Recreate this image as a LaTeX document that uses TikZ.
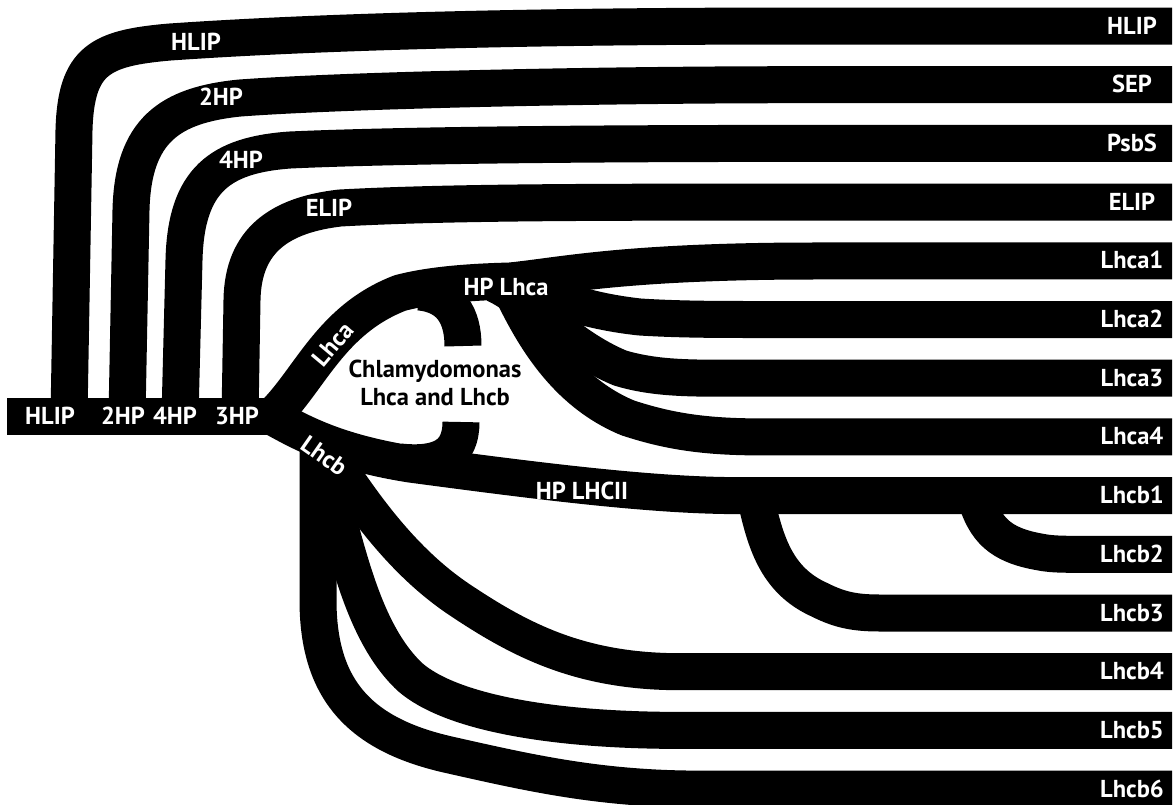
\documentclass[tikz,border=0pt]{standalone}
\usepackage{fontspec}
\setmainfont{PT Sans}
\begin{document}
\begin{tikzpicture}[x=1pt,y=-1pt,
  band/.style={line width=37pt, line join=round, draw=black},
  lab/.style={text=white, font=\bfseries\fontsize{24.5}{27}\selectfont, inner sep=0pt, anchor=base},
  rotlab/.style={text=white, font=\bfseries\fontsize{24.5}{27}\selectfont, inner sep=0pt},
  blab/.style={text=black, font=\bfseries\fontsize{24.5}{28}\selectfont, inner sep=0pt, align=center}]
\useasboundingbox (0,0) rectangle (1173,804);
\clip (0,0) rectangle (1173,804);

% named end points
\coordinate (b0) at (7,416.5);
\coordinate (b1) at (283,416.5);
\coordinate (fork) at (272,416.5);
\coordinate (sHLIP) at (69,416.5);
\coordinate (s2HP) at (127,416.5);
\coordinate (s4HP) at (180,416.5);
\coordinate (sELIP) at (240,416.5);
\foreach \k/\yy in {0/26,1/84.7,2/143.4,3/202.1,4/260.8,5/319.5,6/378.2,7/436.9,8/495.6,9/554.3,10/613,11/671.7,12/730.4,13/789.1}
  \coordinate (r\k) at (1172,\yy);
\coordinate (hpa) at (500,283);
\coordinate (hpa3) at (495,284);
\coordinate (hpa4) at (508,283);
\coordinate (hpb) at (330,455);
\coordinate (hpb5) at (322,460);
\coordinate (hpb6) at (318,445);
\coordinate (hook1) at (420,292);
\coordinate (hook1e) at (463,346);
\coordinate (hook2) at (461,422);
\coordinate (hook2e) at (400,462);
\coordinate (lhcb3s) at (755,495.6);
\coordinate (lhcb2s) at (975,495.6);

% base bar
\draw[band] (b0) -- (b1);
% top families
\draw[band] (sHLIP) -- (74,130) .. controls (76,60) and (100,48) .. (170,42) .. controls (300,33) and (500,26) .. (800,26) -- (r0);
\draw[band] (s2HP) -- (131,210) .. controls (133,130) and (170,105) .. (240,98) .. controls (350,90) and (600,84.7) .. (800,84.7) -- (r1);
\draw[band] (s4HP) -- (184,260) .. controls (186,180) and (220,155) .. (290,150) .. controls (400,145) and (600,143.4) .. (800,143.4) -- (r2);
\draw[band] (sELIP) -- (242,300) .. controls (243,240) and (280,215) .. (340,208) .. controls (450,202) and (600,202.1) .. (800,202.1) -- (r3);
% Lhca
\draw[band] (fork) .. controls (310,380) and (330,320) .. (400,293) .. controls (430,285) and (470,282) .. (510,281) .. controls (560,276) and (620,262) .. (800,261) -- (r4);
\draw[band] (hpa) .. controls (545,292) and (575,310) .. (640,317) .. controls (680,319.5) and (720,319.5) .. (760,319.5) -- (r5);
\draw[band] (hpa3) .. controls (530,300) and (565,345) .. (620,368) .. controls (650,377) and (680,378.2) .. (720,378.2) -- (r6);
\draw[band] (hpa4) .. controls (532,335) and (565,392) .. (628,418) .. controls (665,430) and (700,436.9) .. (760,436.9) -- (r7);
% Chlamydomonas hooks
\draw[band] (hook1) .. controls (450,295) and (463,315) .. (hook1e);
\draw[band] (hook2) .. controls (461,455) and (440,466) .. (hook2e);
% Lhcb
\draw[band] (fork) .. controls (300,432) and (335,452) .. (410,464) .. controls (530,480) and (650,495.6) .. (737,495.6) -- (r8);
\draw[band] (hpb) .. controls (360,500) and (400,560) .. (460,600) .. controls (520,640) and (580,671.7) .. (680,671.7) -- (r11);
\draw[band] (hpb5) .. controls (345,540) and (360,630) .. (410,677) .. controls (450,712) and (550,730.4) .. (680,730.4) -- (r12);
\draw[band] (hpb6) -- (318,600) .. controls (318,690) and (360,735) .. (450,755) .. controls (530,773) and (600,789.1) .. (700,789.1) -- (r13);
\draw[band] (lhcb3s) .. controls (765,540) and (775,580) .. (820,600) .. controls (840,610) and (855,613) .. (880,613) -- (r10);
\draw[band] (lhcb2s) .. controls (985,530) and (1000,545) .. (1040,552) .. controls (1050,554) and (1060,554.3) .. (1075,554.3) -- (r9);

% labels on the base bar
\node[lab] (tHLIP0) at (50,424.5) {HLIP};
\node[lab] (t2HP0) at (123,424.5) {2HP};
\node[lab] (t4HP0) at (175,424.5) {4HP};
\node[lab] (t3HP0) at (237,424.5) {3HP};
% labels on the curves
\node[lab] (tHLIP1) at (196,50) {HLIP};
\node[lab] (t2HP1) at (221,105) {2HP};
\node[lab] (t4HP1) at (241,168) {4HP};
\node[lab] (tELIP1) at (329,216) {ELIP};
\node[rotlab, rotate=50] (tLhca) at (333,344) {Lhca};
\node[rotlab, rotate=-35] (tLhcb) at (324,456) {Lhcb};
\node[lab] (tHPLhca) at (506,295) {HP Lhca};
\node[lab] (tHPLHCII) at (582,499) {HP LHCII};
\node[blab] (tChl) at (435,383) {Chlamydomonas\\Lhca and Lhcb};
% labels at the right ends
\foreach \k/\txt in {0/HLIP,1/SEP,2/PsbS,3/ELIP,4/Lhca1,5/Lhca2,6/Lhca3,7/Lhca4,8/Lhcb1,9/Lhcb2,10/Lhcb3,11/Lhcb4,12/Lhcb5,13/Lhcb6}
  \node[lab] (e\k) at ([shift={(-40,8)}]r\k) {\txt};
\end{tikzpicture}
\end{document}
